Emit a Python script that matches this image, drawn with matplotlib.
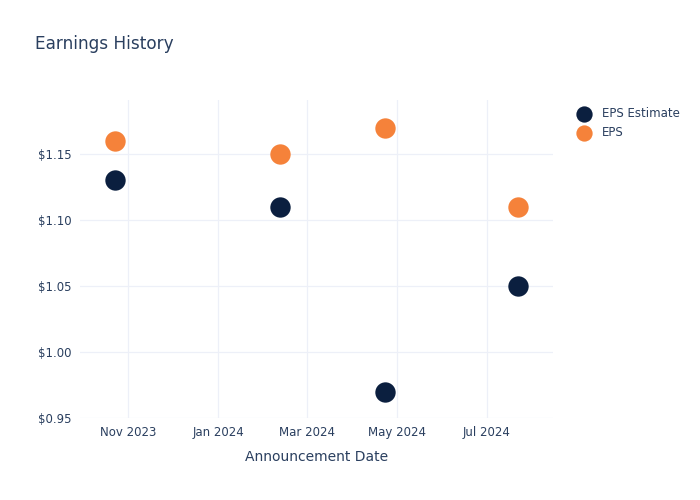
import matplotlib
matplotlib.use("Agg")
import matplotlib.pyplot as plt
import matplotlib.dates as mdates
import pandas as pd

# Data
announce_dates = ["2023-10-23", "2024-02-12", "2024-04-23", "2024-07-22"]
eps_estimate = [1.13, 1.11, 0.97, 1.05]
eps_actual = [1.16, 1.15, 1.17, 1.11]

NAVY = "#0b1f3f"
ORANGE = "#f5823a"
TEXT = "#2a3f5f"
GRID = "#edf0f8"

dates = pd.to_datetime(announce_dates)

fig = plt.figure(figsize=(7.0, 5.0), dpi=100)
ax = fig.add_axes([0.114, 0.164, 0.676, 0.636])

ax.scatter(dates, eps_estimate, s=215, color=NAVY, label="EPS Estimate", zorder=3, linewidths=0)
ax.scatter(dates, eps_actual, s=215, color=ORANGE, label="EPS", zorder=3, linewidths=0)

ax.set_xlim(pd.Timestamp("2023-09-29"), pd.Timestamp("2024-08-15"))
ax.set_ylim(0.95, 1.191)

ax.set_yticks([0.95, 1.00, 1.05, 1.10, 1.15])
ax.yaxis.set_major_formatter(plt.FuncFormatter(lambda v, _: f"${v:.2f}"))
ax.xaxis.set_major_locator(mdates.MonthLocator(bymonth=[1, 3, 5, 7, 11]))
ax.xaxis.set_major_formatter(mdates.DateFormatter("%b %Y"))

ax.grid(True, color=GRID, linewidth=0.9)
ax.set_axisbelow(True)
for spine in ax.spines.values():
    spine.set_visible(False)
ax.tick_params(length=0, labelsize=8.5, colors=TEXT, pad=6)

ax.set_xlabel("Announcement Date", fontsize=10, color=TEXT, labelpad=8)
fig.text(0.05, 0.912, "Earnings History", fontsize=12.2, color=TEXT, va="center")

leg = ax.legend(loc="upper left", bbox_to_anchor=(1.018, 1.01), frameon=False,
                fontsize=8.5, labelcolor=TEXT, handletextpad=0.5,
                labelspacing=0.5, markerscale=0.8)

fig.savefig("out.png", dpi=100, facecolor="white")
